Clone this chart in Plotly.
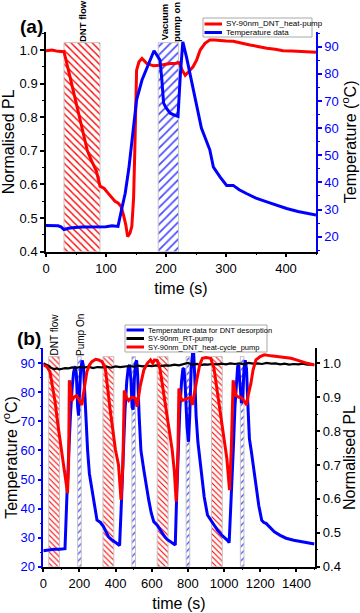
import plotly.graph_objects as go

FONT = "Liberation Sans, Arial, sans-serif"
RED = "#ff0000"
BLUE = "#0000ff"

# ---------------- panel (a) ----------------
t_a_pl = [0, 10, 20, 30, 40, 50, 60, 69, 76, 84, 90, 97, 103, 110, 115, 120, 125, 129, 133, 136,
          140, 143, 146, 148, 151, 155, 160, 168, 179, 190, 200, 207, 215, 222, 227, 232, 237, 245, 251, 257,
          265, 273, 281, 290, 300, 312, 325, 340, 355, 368, 382, 395, 410, 425, 440, 450]
pl_a = [0.998, 1.0, 0.996, 0.995, 0.92, 0.845, 0.77, 0.70, 0.67, 0.64, 0.595, 0.588, 0.575, 0.56, 0.55, 0.545, 0.535, 0.51, 0.48, 0.445,
        0.455, 0.475, 0.56, 0.70, 0.94, 0.965, 0.975, 0.96, 0.953, 0.955, 0.958, 0.96, 0.96, 0.962, 0.94, 0.925, 0.934, 0.95, 0.97, 1.0,
        1.02, 1.03, 1.03, 1.028, 1.027, 1.026, 1.02, 1.015, 1.01, 1.005, 1.002, 0.998, 0.997, 0.995, 0.994, 0.993]

t_a_temp = [0, 10, 20, 25, 30, 36, 43, 60, 80, 100, 110, 120, 126, 132, 138, 143, 147, 151, 160, 171,
            180, 186, 190, 193, 196, 200, 207, 214, 220, 224, 228, 234, 241, 248, 259, 273, 279, 290, 301, 312,
            322, 334, 350, 368, 385, 401, 420, 435, 450]
temp_a = [24.1, 24.1, 24.0, 23.6, 22.6, 23.0, 23.3, 23.6, 23.6, 23.7, 24.0, 23.8, 30, 36, 45, 55, 63, 70.4, 77.7, 83.3,
          88.5, 86.5, 85, 78, 69.2, 67.5, 65.5, 64.8, 64.3, 80, 91.8, 86.3, 79, 71.6, 60, 52, 45.6, 42, 38.9, 38.9,
          37.3, 35.9, 34.2, 32.8, 31.5, 30.4, 29.3, 28.6, 28]

dnt_a = [(30, 90)]
pump_a = [(187, 221)]
hatch_top_a = 1.022

# ---------------- panel (b) ----------------
t_b_temp = [0, 10, 20, 37, 60, 90, 110, 120, 131, 140, 150, 160, 168, 176, 183, 190, 195, 200, 207, 215,
            222, 230, 238, 245, 255, 269, 283, 297, 315, 333, 347, 361, 375, 389, 403, 417, 422,
            433, 442, 452, 462, 470, 477, 485, 491, 497, 503, 510, 516, 522, 530, 540, 556, 570, 583, 597, 611,
            630, 644, 658, 672, 685, 700, 712, 722, 730,
            737, 746, 755, 765, 772, 778, 785, 795, 803, 810, 818, 825, 832, 838, 845, 855, 861, 875, 890, 908,
            926, 944, 963, 985, 1009, 1020, 1028,
            1043, 1052, 1060, 1068, 1075, 1080, 1088, 1096, 1103, 1110, 1117, 1124, 1132, 1140, 1150, 1160, 1176, 1192, 1208, 1220,
            1232, 1255, 1278, 1310, 1343, 1385, 1426, 1465, 1500]
temp_b = [25.5, 25.6, 25.8, 26.0, 26.0, 26.0, 26.0, 26.2, 45, 60, 72, 82, 87, 89, 86, 75, 72, 80, 88, 91,
          89, 79, 67, 60, 52, 46.4, 40, 36, 35.3, 33.8, 32, 30.3, 29.5, 28.8, 28, 27.5, 27.3,
          43.5, 60, 74, 84, 88.5, 89.5, 84, 75, 74, 84, 90, 91, 86, 72, 60, 53.3, 47.5, 43, 38.5, 35.5,
          34.3, 32.8, 31.5, 30.3, 29.4, 28.7, 28.2, 27.7, 27.5,
          43, 60, 74, 84, 88, 88.3, 82, 68, 63, 72, 88, 93, 93, 85, 72, 63, 60, 52, 44, 37.8,
          36, 34.2, 32.6, 31, 29.8, 29, 28.3,
          46.4, 62, 75, 84, 89, 89.4, 84, 76.3, 78, 88, 91.1, 88, 75, 64, 60, 55, 47.5, 41, 36, 35.2,
          34.9, 33.5, 32, 30.8, 29.8, 29.1, 28.6, 28.2, 27.8]

t_b_rt = [0, 15, 30, 45, 60, 75, 90, 105, 120, 140, 160, 180, 200, 225, 250, 275, 300, 325, 350, 375,
          400, 425, 450, 475, 500, 525, 550, 575, 600, 625, 650, 675, 700, 725, 750, 775, 800, 825, 850, 870,
          890, 910, 935, 960, 985, 1010, 1035, 1060, 1085, 1110, 1135, 1160, 1185, 1210, 1235, 1260, 1285, 1310, 1335, 1360,
          1385, 1410, 1435, 1460, 1480, 1500]
pl_rt = [1.0, 0.997, 0.992, 0.986, 0.983, 0.985, 0.982, 0.984, 0.986, 0.985, 0.988, 0.986, 0.989, 0.987, 0.99, 0.986, 0.989, 0.988, 0.99, 0.987,
         0.991, 0.989, 0.99, 0.992, 0.99, 0.993, 0.991, 0.993, 0.992, 0.994, 0.992, 0.994, 0.993, 0.996, 0.994, 0.997, 1.001, 0.996, 0.998, 0.995,
         0.997, 0.996, 0.998, 0.997, 0.999, 0.997, 1.0, 0.998, 1.0, 0.997, 1.001, 0.999, 1.0, 0.998, 1.001, 0.999, 1.0, 0.997, 0.999, 0.996,
         0.998, 0.997, 0.999, 0.996, 0.997, 0.996]

t_b_pl = [0, 20, 37, 50, 65, 83, 102, 115, 125, 134, 140, 144, 150, 158, 170, 185, 200, 213, 225, 241, 255, 269, 290, 306, 325,
          343, 370, 399, 416, 430, 440, 448, 460, 472, 490, 509, 519, 535, 556, 575, 593, 605, 615, 630,
          645, 658, 686, 713, 725, 735, 745, 750, 760, 769, 790, 815, 824, 840, 852, 865, 880, 900, 926,
          944, 972, 1000, 1015, 1030, 1040, 1050, 1065, 1080, 1093, 1110, 1124, 1135, 1148, 1160, 1176, 1200, 1222, 1260, 1297,
          1330, 1370, 1400, 1426, 1460, 1500]
pl_b = [0.995, 0.99, 0.975, 0.93, 0.887, 0.81, 0.74, 0.685, 0.65, 0.617, 0.70, 0.95, 0.93, 0.89, 0.9, 0.905, 0.89, 0.877, 0.92, 0.975, 0.995, 1.005, 1.012, 1.01, 1.005,
        0.985, 0.862, 0.745, 0.70, 0.597, 0.70, 0.92, 0.9, 0.89, 0.9, 0.897, 0.872, 0.93, 0.98, 1.0, 1.01, 1.0, 1.01, 1.008,
        0.985, 0.94, 0.833, 0.744, 0.68, 0.592, 0.75, 0.926, 0.9, 0.89, 0.895, 0.9, 0.877, 0.93, 0.96, 0.995, 1.015, 1.017, 1.015,
        0.985, 0.882, 0.783, 0.72, 0.626, 0.75, 0.95, 0.906, 0.9, 0.9, 0.89, 0.877, 0.91, 0.94, 0.98, 1.01, 1.02, 1.025, 1.022, 1.02,
        1.018, 1.015, 1.01, 1.005, 1.0, 0.995]

dnt_b = [(30, 90), (330, 390), (630, 690), (930, 990)]
pump_b = [(190, 210), (490, 510), (790, 810), (1090, 1110)]
hatch_top_b = 92.3


def px_x(p):
    return p / 360


def px_y(p):
    return 1 - p / 613


def hatch(spans, base, top, xa, ya, shape, color, size):
    return go.Bar(
        x=[(a + b) / 2 for a, b in spans],
        y=[top - base] * len(spans),
        base=[base] * len(spans),
        width=[b - a for a, b in spans],
        xaxis=xa, yaxis=ya,
        marker=dict(color="white", line=dict(color="#c4c4c4", width=1),
                    pattern=dict(shape=shape, fgcolor=color, bgcolor="white",
                                 size=size, solidity=0.28, fillmode="replace")),
        showlegend=False, hoverinfo="skip",
    )


fig = go.Figure()

# panel (a)
fig.add_trace(hatch(dnt_a, 0.4, hatch_top_a, "x", "y", "\\", RED, 5))
fig.add_trace(hatch(pump_a, 0.4, hatch_top_a, "x", "y", "/", "#4c4cff", 6))
fig.add_trace(go.Scatter(x=t_a_pl, y=pl_a, mode="lines", name="SY-90nm_DNT_heat-pump",
                         line=dict(color=RED, width=3), xaxis="x", yaxis="y"))
fig.add_trace(go.Scatter(x=t_a_temp, y=temp_a, mode="lines", name="Temperature data",
                         line=dict(color=BLUE, width=3), xaxis="x", yaxis="y2"))

# panel (b)
fig.add_trace(hatch(dnt_b, 20, hatch_top_b, "x2", "y3", "\\", RED, 4))
fig.add_trace(hatch(pump_b, 20, hatch_top_b, "x2", "y3", "/", "#4c4cff", 5))
fig.add_trace(go.Scatter(x=t_b_temp, y=temp_b, mode="lines", name="Temperature data for DNT desorption",
                         line=dict(color=BLUE, width=3), xaxis="x2", yaxis="y3"))
fig.add_trace(go.Scatter(x=t_b_rt, y=pl_rt, mode="lines", name="SY-90nm_RT-pump",
                         line=dict(color="black", width=2.2), xaxis="x2", yaxis="y4"))
fig.add_trace(go.Scatter(x=t_b_pl, y=pl_b, mode="lines", name="SY-90nm_DNT_heat-cycle_pump",
                         line=dict(color=RED, width=3), xaxis="x2", yaxis="y4"))


def axis(color="black", **kw):
    d = dict(showgrid=False, zeroline=False, showline=True, linewidth=1.5, linecolor=color,
             ticks="outside", ticklen=4, tickwidth=1.5, tickcolor=color,
             tickfont=dict(size=13, color=color), automargin=False,
             minor=dict(ticks="outside", ticklen=2, tickwidth=1.2, tickcolor=color))
    d.update(kw)
    return d


def title(text, standoff):
    return dict(text=text, font=dict(size=16, color="black"), standoff=standoff)


deg = "Temperature (<sup>o</sup>C)"

fig.update_layout(
    width=360, height=613,
    margin=dict(l=0, r=0, t=0, b=0),
    paper_bgcolor="white", plot_bgcolor="white",
    font=dict(family=FONT, size=13, color="black"),
    showlegend=False, barmode="overlay",
    xaxis=axis(domain=[px_x(46), px_x(316)], anchor="y", range=[0, 450], dtick=100, tick0=0,
               minor_dtick=50, title=title("time (s)", 8)),
    yaxis=axis(domain=[px_y(251.7), px_y(32)], anchor="x", range=[0.4, 1.0536], dtick=0.1, tick0=0,
               tickformat=".1f", minor_dtick=0.05, title=title("Normalised PL", 4)),
    yaxis2=axis(color=BLUE, overlaying="y", side="right", anchor="x", range=[14.47, 95.4], dtick=10, tick0=0,
                minor_dtick=5, title=title(deg, 4)),
    xaxis2=axis(domain=[px_x(43.3), px_x(314.5)], anchor="y3", range=[0, 1500], dtick=200, tick0=0,
                minor_dtick=100, title=title("time (s)", 8)),
    yaxis3=axis(color=BLUE, domain=[px_y(566.7), px_y(348.3)], anchor="x2", range=[20, 95.16], dtick=10, tick0=0,
                minor_dtick=5, title=title(deg, 4)),
    yaxis4=axis(overlaying="y3", side="right", anchor="x2", range=[0.4, 1.0443], dtick=0.1, tick0=0,
                tickformat=".1f", minor_dtick=0.05, title=title("Normalised PL", 4)),
)

ann = []
shapes = []


def label(text, x, y, size=10, angle=-90, **kw):
    ann.append(dict(text=text, x=px_x(x), y=px_y(y), xref="paper", yref="paper", showarrow=False,
                    textangle=angle, xanchor="center", yanchor="middle",
                    font=dict(size=size, color="black", family=FONT), **kw))


label("<b>(a)</b>", 31, 26, size=19, angle=0)
label("<b>DNT flow</b>", 82, 21, size=9.5)
label("<b>Vacuum<br>pump on</b>", 170, 22, size=9.5)
label("<b>(b)</b>", 29, 338, size=19, angle=0)
label("DNT flow", 53.5, 335, size=10)
label("Pump On", 80, 335, size=10)


def legend_box(x0, x1, y0, y1, entries, size):
    shapes.append(dict(type="rect", xref="paper", yref="paper", x0=px_x(x0), x1=px_x(x1),
                       y0=px_y(y1), y1=px_y(y0), line=dict(color="#a8a8a8", width=1),
                       fillcolor="white", layer="above"))
    for yy, color, text in entries:
        shapes.append(dict(type="line", xref="paper", yref="paper", x0=px_x(x0 + 1.5), x1=px_x(x0 + 19),
                           y0=px_y(yy), y1=px_y(yy), line=dict(color=color, width=3), layer="above"))
        ann.append(dict(text=text, x=px_x(x0 + 20.5), y=px_y(yy), xref="paper", yref="paper",
                        showarrow=False, xanchor="left", yanchor="middle",
                        font=dict(size=size, color="black", family=FONT)))


legend_box(203, 312, 18, 37, [(24, RED, "SY-90nm_DNT_heat-pump"),
                              (32.5, BLUE, "Temperature data")], 8)
legend_box(125, 267, 325, 352, [(330, BLUE, "Temperature data for DNT desorption"),
                                (338.5, "black", "SY-90nm_RT-pump"),
                                (347, RED, "SY-90nm_DNT_heat-cycle_pump")], 7.5)

fig.update_layout(annotations=ann, shapes=shapes)

# the page body has a default 8px margin; drop it so the figure fills the window
fig.write_html("out.html", config={"displayModeBar": False},
               post_script="document.body.style.margin='0';")
